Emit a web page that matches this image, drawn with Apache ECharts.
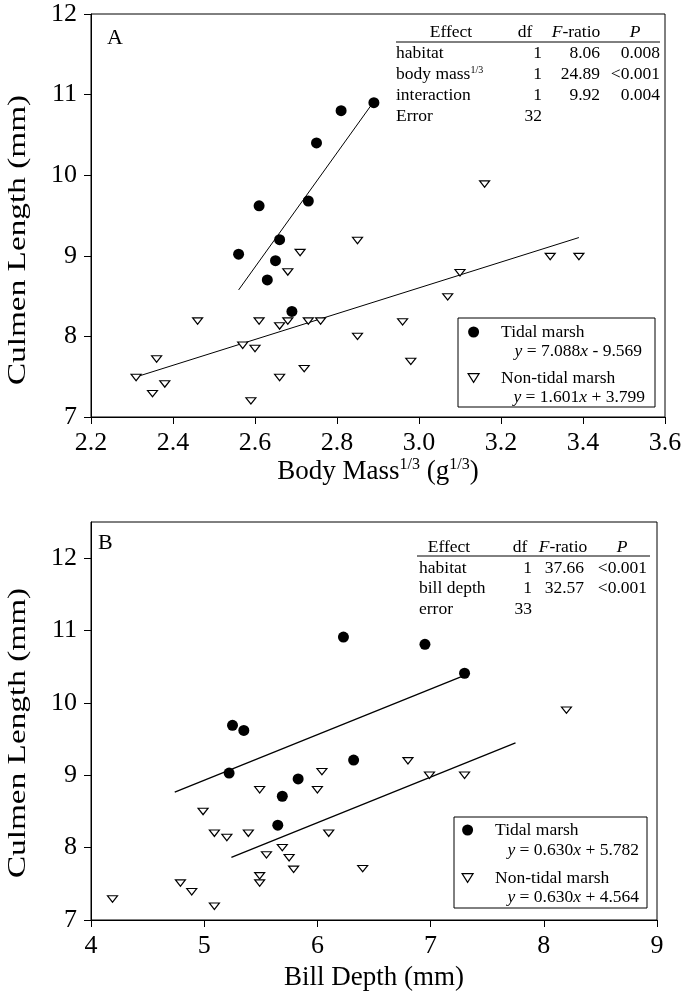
<!DOCTYPE html>
<html>
<head>
<meta charset="utf-8">
<script src="https://cdn.jsdelivr.net/npm/echarts@6/dist/echarts.min.js"></script>
<style>
html, body { margin: 0; padding: 0; background: #fff; }
#chart { width: 685px; height: 999px; }
</style>
</head>
<body>
<div id="chart"></div>
<script>
// panel A - culmen length vs body mass^(1/3)
var massTidalX = [2.89, 2.81, 2.75, 2.61, 2.73, 2.66, 2.56, 2.65, 2.63, 2.69];
var massTidalY = [10.90, 10.80, 10.40, 9.62, 9.68, 9.20, 9.02, 8.94, 8.70, 8.31];
var massNonX = [2.85, 2.71, 2.68, 2.46, 2.61, 2.66, 2.68, 2.73, 2.76, 2.85, 2.57, 2.60, 2.36,
                2.72, 2.66, 2.38, 2.35, 2.59, 2.31, 3.16, 3.32, 3.39, 3.10, 3.07, 2.96, 2.98];
var massNonY = [9.19, 9.04, 8.80, 8.19, 8.19, 8.13, 8.19, 8.19, 8.19, 8.00, 7.89, 7.85, 7.72,
                7.60, 7.49, 7.41, 7.29, 7.20, 7.49, 9.89, 8.99, 8.99, 8.79, 8.49, 8.18, 7.69];
// fitted lines: slope, intercept, x from, x to
var massTidalFit = [7.088, -9.569, 2.56, 2.89];
var massNonFit = [1.601, 3.799, 2.31, 3.39];

// panel B - culmen length vs bill depth
var billTidalX = [6.23, 5.25, 5.35, 6.32, 5.22, 5.83, 5.69, 5.65, 6.95, 7.30];
var billTidalY = [10.91, 9.69, 9.62, 9.21, 9.03, 8.95, 8.71, 8.31, 10.81, 10.41];
var billNonX = [6.04, 5.49, 6.00, 4.99, 5.09, 5.20, 5.39, 6.10, 5.69, 5.55, 5.75, 5.79,
                6.40, 5.49, 5.49, 4.79, 4.89, 5.09, 4.19, 8.20, 6.80, 6.99, 7.30];
var billNonY = [9.05, 8.80, 8.80, 8.50, 8.20, 8.14, 8.20, 8.20, 8.00, 7.90, 7.86, 7.70,
                7.71, 7.61, 7.51, 7.51, 7.39, 7.19, 7.29, 9.90, 9.20, 9.00, 9.00];
var billTidalFit = [0.630, 5.782, 4.74, 7.30];
var billNonFit = [0.630, 4.564, 5.24, 7.75];

// tick labels
var massTicks = [2.2, 2.4, 2.6, 2.8, 3.0, 3.2, 3.4, 3.6];
var culmenTicks = [7, 8, 9, 10, 11, 12];
var billTicks = [4, 5, 6, 7, 8, 9];

// ANOVA tables
var tableHead = ['Effect', 'df', '{i|F}-ratio', '{i|P}'];
var tableARows = [
    ['habitat', '1', '8.06', '0.008'],
    ['body mass{s|1/3}', '1', '24.89', '<0.001'],
    ['interaction', '1', '9.92', '0.004'],
    ['Error', '32', '', '']
];
var tableBRows = [
    ['habitat', '1', '37.66', '<0.001'],
    ['bill depth', '1', '32.57', '<0.001'],
    ['error', '33', '', '']
];
var eqA = ['{i|y} = 7.088{i|x} - 9.569', '{i|y} = 1.601{i|x} + 3.799'];
var eqB = ['{i|y} = 0.630{i|x} + 5.782', '{i|y} = 0.630{i|x} + 4.564'];

var SERIF = 'Liberation Serif';
var TRI = 'path://M0,0L10,0L5,8Z';

function zip(xs, ys) {
    return xs.map(function(x, i) { return [x, ys[i]]; });
}
function fitLine(f) {
    return [[f[2], f[0] * f[2] + f[1]], [f[3], f[0] * f[3] + f[1]]];
}

var richBase = {
    i: { fontFamily: SERIF, fontStyle: 'italic', fontSize: 17.5 },
    s: { fontFamily: SERIF, fontSize: 10, verticalAlign: 'top', lineHeight: 18 }
};

function txt(x, y, text, align, extra) {
    var st = {
        text: text, fontFamily: SERIF, fontSize: 17.5, fill: '#000',
        align: align || 'left', verticalAlign: 'middle', rich: richBase
    };
    for (var k in extra) st[k] = extra[k];
    return { type: 'text', x: x, y: y, silent: true, style: st };
}

// table: header centers, underline, column edges
function table(head, rows, t) {
    var out = [];
    for (var c = 0; c < 4; c++) out.push(txt(t.hx[c], t.hy, head[c], 'center'));
    out.push({
        type: 'line', silent: true,
        shape: { x1: t.lx[0], y1: t.ly, x2: t.lx[1], y2: t.ly },
        style: { stroke: '#000', lineWidth: 1 }
    });
    rows.forEach(function(r, i) {
        var y = t.ry + i * t.rs;
        out.push(txt(t.cx[0], y, r[0], 'left'));
        out.push(txt(t.cx[1], y, r[1], 'right'));
        out.push(txt(t.cx[2], y, r[2], 'right'));
        out.push(txt(t.cx[3], y, r[3], 'right'));
    });
    return out;
}

function legendBox(b) {
    return {
        type: 'rect', silent: true,
        shape: { x: b[0], y: b[1], width: b[2] - b[0], height: b[3] - b[1] },
        style: { fill: 'none', stroke: '#000', lineWidth: 1 }
    };
}
function yTitle(y) {
    return {
        type: 'text', x: 18, y: y, rotation: Math.PI / 2, scaleX: 1.28, silent: true,
        style: { text: 'Culmen Length (mm)', fontFamily: SERIF, fontSize: 26, fill: '#000', align: 'center', verticalAlign: 'middle' }
    };
}

var graphics = [];
graphics = graphics.concat(table(tableHead, tableARows, {
    hx: [451, 525, 576, 635], hy: 32, lx: [396, 660], ly: 42,
    cx: [396, 542, 600, 660], ry: 53, rs: 21
}));
graphics = graphics.concat(table(tableHead, tableBRows, {
    hx: [449, 520, 563, 622], hy: 547, lx: [417, 650], ly: 556,
    cx: [419, 532, 584, 647], ry: 568, rs: 20.5
}));
graphics.push(legendBox([458, 318, 655, 407]));
graphics.push(legendBox([454, 817, 647, 908]));
graphics.push(txt(642, 351, eqA[0], 'right'));
graphics.push(txt(645, 397, eqA[1], 'right'));
graphics.push(txt(639, 850, eqB[0], 'right'));
graphics.push(txt(639, 897, eqB[1], 'right'));
graphics.push(txt(107, 38, 'A', 'left', { fontSize: 22 }));
graphics.push(txt(98, 543, 'B', 'left', { fontSize: 22 }));
graphics.push(yTitle(240));
graphics.push(yTitle(733));

function xAxis(idx, min, max, ticks, fmt, name, gap) {
    return {
        type: 'value', gridIndex: idx, min: min, max: max,
        splitLine: { show: false },
        axisLine: { lineStyle: { color: '#000', width: 1 } },
        axisTick: { inside: false, length: 7, customValues: ticks, lineStyle: { color: '#000' } },
        axisLabel: { customValues: ticks, formatter: fmt, margin: 13, color: '#000', fontFamily: SERIF, fontSize: 26 },
        name: name, nameLocation: 'middle', nameGap: gap,
        nameTextStyle: {
            color: '#000', fontFamily: SERIF, fontSize: 27, lineHeight: 30,
            rich: {
                t: { fontFamily: SERIF, fontSize: 27, lineHeight: 30 },
                s: { fontFamily: SERIF, fontSize: 16, verticalAlign: 'top', lineHeight: 30 }
            }
        }
    };
}
function yAxis(idx, min, max, ticks) {
    return {
        type: 'value', gridIndex: idx, min: min, max: max,
        splitLine: { show: false },
        axisLine: { lineStyle: { color: '#000', width: 1 } },
        axisTick: { inside: false, length: 7, customValues: ticks, lineStyle: { color: '#000' } },
        axisLabel: { customValues: ticks, margin: 14, color: '#000', fontFamily: SERIF, fontSize: 26 }
    };
}

function tidal(name, xi, data) {
    return {
        name: name, type: 'scatter', xAxisIndex: xi, yAxisIndex: xi, z: 5,
        symbol: 'circle', symbolSize: 11, data: data,
        itemStyle: { color: '#000', opacity: 1 }
    };
}
function nonTidal(name, xi, data) {
    return {
        name: name, type: 'scatter', xAxisIndex: xi, yAxisIndex: xi, z: 4,
        symbol: TRI, symbolSize: [10, 8], symbolKeepAspect: true, data: data,
        itemStyle: { color: '#fff', borderColor: '#000', borderWidth: 1.2, opacity: 1 }
    };
}
function fit(xi, data, w) {
    return {
        type: 'line', xAxisIndex: xi, yAxisIndex: xi, z: 2, data: data,
        symbol: 'none', silent: true,
        lineStyle: { color: '#000', width: w }
    };
}

function legend(top, left, gap) {
    return {
        orient: 'vertical', top: top, left: left, padding: 0, itemGap: gap,
        itemWidth: 11, itemHeight: 11, selectedMode: false,
        formatter: '{n|{name}}',
        textStyle: {
            color: '#000',
            rich: { n: { fontFamily: SERIF, fontSize: 17.5, lineHeight: 18, padding: [0, 0, 0, 17] } }
        },
        data: [
            { name: 'Tidal marsh', icon: 'circle', itemStyle: { color: '#000', borderWidth: 0 } },
            { name: 'Non-tidal marsh', icon: TRI, itemStyle: { color: '#fff', borderColor: '#000', borderWidth: 1.2 } }
        ]
    };
}

var chart = echarts.init(document.getElementById('chart'));
chart.setOption({
    animation: false,
    backgroundColor: '#fff',
    grid: [
        { left: 91, top: 14, width: 574, height: 403, show: true, borderColor: '#000', borderWidth: 1 },
        { left: 91, top: 522, width: 566, height: 398, show: true, borderColor: '#000', borderWidth: 1 }
    ],
    xAxis: [
        xAxis(0, 2.2, 3.6, massTicks, function(v) { return v.toFixed(1); },
            '{t|Body Mass}{s|1/3}{t| (g}{s|1/3}{t|)}', 37),
        xAxis(1, 4, 9, billTicks, function(v) { return String(v); }, 'Bill Depth (mm)', 43)
    ],
    yAxis: [
        yAxis(0, 7, 12, culmenTicks),
        yAxis(1, 7, 12.5, culmenTicks)
    ],
    legend: [legend(323, 467.5, 28), legend(821, 461.5, 30)],
    graphic: graphics,
    series: [
        fit(0, fitLine(massTidalFit), 1),
        fit(0, fitLine(massNonFit), 1),
        tidal('Tidal marsh', 0, zip(massTidalX, massTidalY)),
        nonTidal('Non-tidal marsh', 0, zip(massNonX, massNonY)),
        fit(1, fitLine(billTidalFit), 1.3),
        fit(1, fitLine(billNonFit), 1.3),
        tidal('Tidal marsh', 1, zip(billTidalX, billTidalY)),
        nonTidal('Non-tidal marsh', 1, zip(billNonX, billNonY))
    ]
});
</script>
</body>
</html>
